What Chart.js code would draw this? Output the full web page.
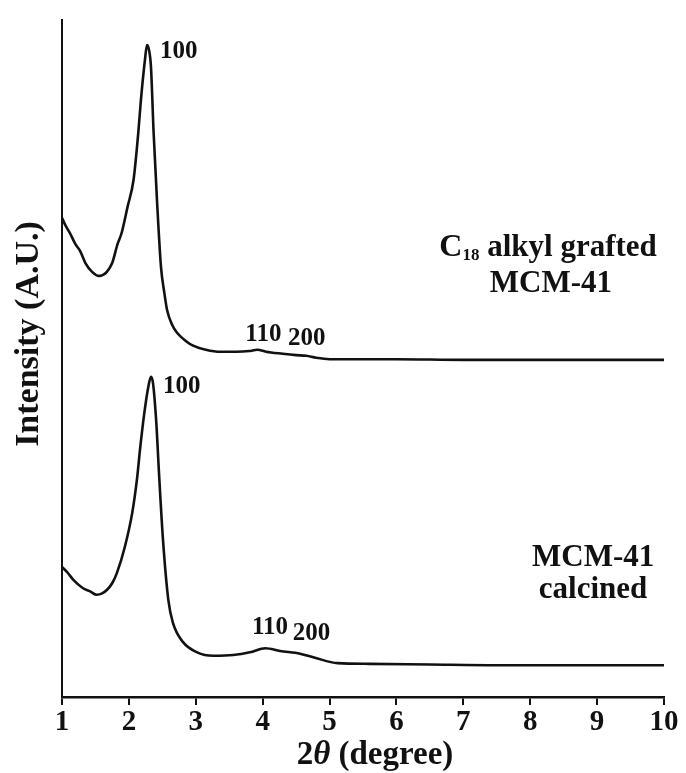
<!DOCTYPE html>
<html>
<head>
<meta charset="utf-8">
<script src="https://cdn.jsdelivr.net/npm/chart.js@4.4.0/dist/chart.umd.min.js"></script>
<style>
  html, body { margin: 0; padding: 0; background: #fff; }
  #wrap { width: 686px; height: 773px; }
</style>
</head>
<body>
<div id="wrap"><canvas id="chart"></canvas></div>
<script>
// 2theta (degree) and intensity (A.U.)
const graftedX = [1.00, 1.05, 1.12, 1.20, 1.27, 1.35, 1.45, 1.55, 1.62, 1.67, 1.75, 1.83, 1.89, 1.98, 2.07, 2.14, 2.18, 2.24, 2.27, 2.30, 2.33, 2.37, 2.42, 2.48, 2.53, 2.57, 2.65, 2.72, 2.85, 2.96, 3.15, 3.37, 3.60, 3.80, 3.92, 4.05, 4.30, 4.50, 4.65, 4.80, 5.00, 5.50, 6.00, 7.00, 8.00, 9.00, 10.00];
const graftedY = [70.8, 69.7, 68.5, 66.9, 65.9, 64.1, 62.8, 62.2, 62.4, 62.8, 64.1, 66.9, 68.5, 72.4, 76.4, 83.3, 88.2, 94.1, 96.3, 95.6, 93.1, 83.3, 73.4, 63.5, 59.7, 57.2, 54.9, 53.8, 52.6, 51.9, 51.3, 51.0, 51.0, 51.1, 51.3, 51.0, 50.7, 50.5, 50.4, 50.1, 49.9, 49.9, 49.9, 49.8, 49.8, 49.8, 49.8];

const calcinedX = [1.00, 1.08, 1.17, 1.31, 1.42, 1.52, 1.60, 1.67, 1.75, 1.82, 1.94, 2.05, 2.12, 2.17, 2.23, 2.29, 2.33, 2.36, 2.41, 2.45, 2.51, 2.59, 2.66, 2.81, 3.02, 3.26, 3.56, 3.81, 4.04, 4.26, 4.56, 4.78, 5.12, 5.60, 6.50, 7.50, 8.50, 10.00];
const calcinedY = [19.2, 18.4, 17.3, 16.1, 15.6, 15.1, 15.3, 15.8, 16.8, 18.3, 22.2, 27.2, 32.1, 36.9, 41.9, 45.8, 47.3, 46.4, 40.5, 33.1, 23.2, 14.3, 10.9, 8.1, 6.6, 6.1, 6.2, 6.6, 7.2, 6.8, 6.4, 5.8, 5.0, 4.9, 4.8, 4.7, 4.7, 4.7];

const xTicks = [1, 2, 3, 4, 5, 6, 7, 8, 9, 10];

// reflection labels: [text, 2theta, intensity]
const peakLabels = [
  ["100", 2.465, 95.4],
  ["110", 3.74, 53.6],
  ["200", 4.38, 52.9],
  ["100", 2.51, 45.9],
  ["110", 3.84, 10.3],
  ["200", 4.45, 9.3]
];

const serif = "'Liberation Serif', 'Times New Roman', serif";
const ink = "#111";

const toPoints = (xs, ys) => xs.map((x, i) => ({ x: x, y: ys[i] }));

// draws the peak indices, sample names and axis titles
const textPlugin = {
  id: "texts",
  afterDraw(chart) {
    const ctx = chart.ctx;
    const sx = chart.scales.x, sy = chart.scales.y;
    ctx.save();
    ctx.fillStyle = ink;
    ctx.textBaseline = "middle";

    ctx.font = "bold 25px " + serif;
    ctx.textAlign = "left";
    peakLabels.forEach(l => {
      ctx.fillText(l[0], sx.getPixelForValue(l[1]), sy.getPixelForValue(l[2]));
    });

    // C18 alkyl grafted / MCM-41
    ctx.textAlign = "left";
    let cx = sx.getPixelForValue(8.31), cy = sy.getPixelForValue(66.3);
    ctx.font = "bold 32px " + serif;
    const wC = ctx.measureText("C").width;
    const wRest = ctx.measureText(" alkyl grafted").width;
    ctx.font = "bold 17px " + serif;
    const wSub = ctx.measureText("18").width;
    let x0 = cx - (wC + wSub + wRest) / 2;
    ctx.font = "bold 32px " + serif;
    ctx.fillText("C", x0, cy);
    ctx.font = "bold 17px " + serif;
    ctx.fillText("18", x0 + wC, cy + 7);
    ctx.font = "bold 31px " + serif;
    ctx.fillText(" alkyl grafted", x0 + wC + wSub, cy);
    ctx.textAlign = "center";
    ctx.fillText("MCM-41", cx, sy.getPixelForValue(61.0));

    cx = sx.getPixelForValue(8.94);
    ctx.fillText("MCM-41", cx, sy.getPixelForValue(20.5));
    ctx.fillText("calcined", cx, sy.getPixelForValue(15.8));

    // x title with italic theta
    ctx.textAlign = "left";
    const parts = [["2", "bold 33px "], ["\u03B8", "italic bold 33px "], [" (degree)", "bold 33px "]];
    let total = 0;
    parts.forEach(p => { ctx.font = p[1] + serif; total += ctx.measureText(p[0]).width; });
    let tx = 375 - total / 2;
    parts.forEach(p => {
      ctx.font = p[1] + serif;
      ctx.fillText(p[0], tx, 755);
      tx += ctx.measureText(p[0]).width;
    });

    // y title
    ctx.translate(29, 334);
    ctx.rotate(-Math.PI / 2);
    ctx.textAlign = "center";
    ctx.font = "bold 34px " + serif;
    ctx.fillText("Intensity (A.U.)", 0, 0);
    ctx.restore();
  }
};

new Chart(document.getElementById("chart"), {
  type: "line",
  data: {
    datasets: [
      { label: "C18 alkyl grafted MCM-41", data: toPoints(graftedX, graftedY) },
      { label: "MCM-41 calcined", data: toPoints(calcinedX, calcinedY) }
    ]
  },
  options: {
    responsive: true,
    maintainAspectRatio: false,
    animation: false,
    layout: { padding: { top: 20, right: 22, left: 0, bottom: 0 } },
    elements: {
      point: { radius: 0 },
      line: { borderColor: ink, borderWidth: 2.6, cubicInterpolationMode: "monotone", fill: false }
    },
    plugins: {
      legend: { display: false },
      tooltip: { enabled: false }
    },
    scales: {
      x: {
        type: "linear",
        min: 1,
        max: 10,
        afterFit: s => { s.height = 76; },
        afterBuildTicks: s => { s.ticks = xTicks.map(v => ({ value: v })); },
        grid: { drawOnChartArea: false, drawTicks: true, tickLength: 8, color: ink, lineWidth: 2 },
        border: { display: true, color: ink, width: 2.5 },
        ticks: {
          color: ink,
          padding: 0,
          maxRotation: 0,
          font: { family: serif, size: 29, weight: "bold" }
        }
      },
      y: {
        min: 0,
        max: 100,
        afterFit: s => { s.width = 62; },
        grid: { display: false },
        border: { display: true, color: ink, width: 2 },
        ticks: { display: false }
      }
    }
  },
  plugins: [textPlugin]
});
</script>
</body>
</html>
